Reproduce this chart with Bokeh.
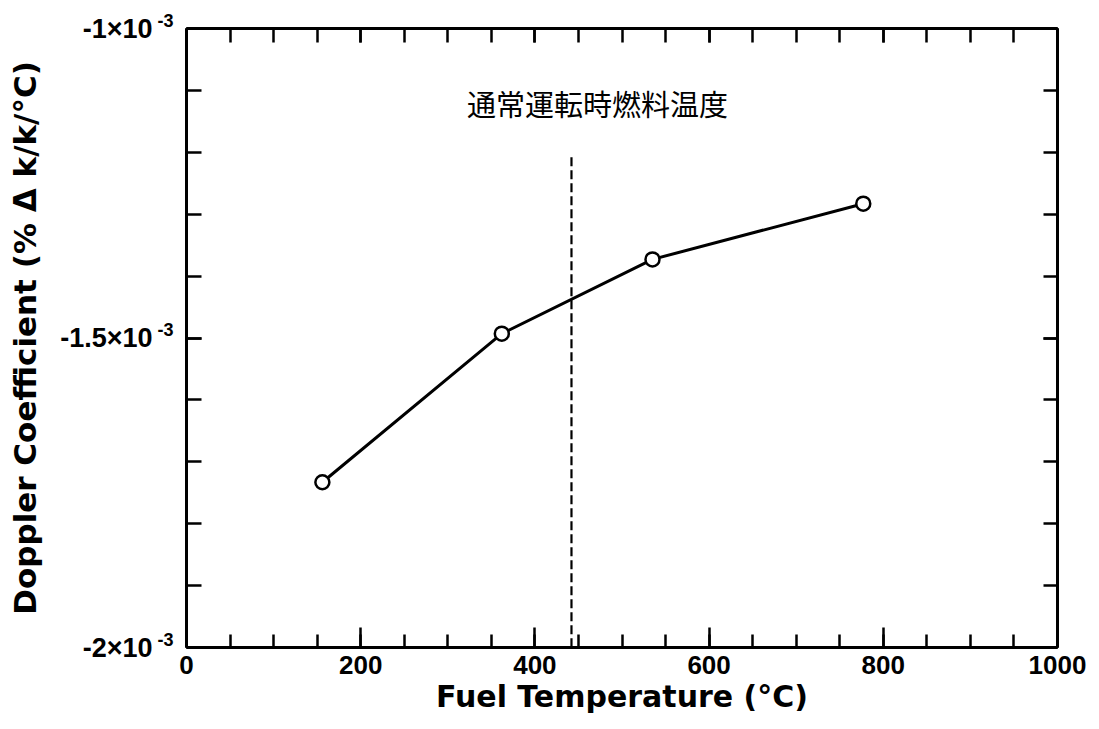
import numpy as np
from bokeh.plotting import figure
from bokeh.models import LinearAxis, FixedTicker, Label, Range1d
from bokeh.embed import file_html
from bokeh.resources import INLINE

# ---- data ----
fuel_temp = [156, 362, 535, 777]
doppler_coef = [-1.733e-3, -1.493e-3, -1.373e-3, -1.283e-3]
nominal_x = [442, 442]
nominal_y = [-1.208e-3, -2.0e-3]
nominal_text = "通常運転時燃料温度"
nominal_text_pos = (472, -1.12e-3)

x_ticks = [0, 200, 400, 600, 800, 1000]
x_minor = [float(v) for v in np.arange(0, 1001, 50)]
y_ticks = [-0.002, -0.0015, -0.001]
y_tick_base = ["-2×10", "-1.5×10", "-1×10"]
y_tick_exp = ["-3\n", "-3\n", "-3\n"]
y_minor = [round(v, 5) for v in np.arange(-0.002, -0.00099, 0.0001)]

FONT = "Liberation Sans"
LABEL_FONT = "DejaVu Sans"

p = figure(width=1099, height=729, output_backend="svg", toolbar_location=None,
           x_range=Range1d(0, 1000), y_range=Range1d(-0.002, -0.001),
           x_axis_label="Fuel Temperature (°C)",
           min_border_left=186, min_border_right=42, min_border_top=28, min_border_bottom=82)
p.xgrid.visible = False
p.ygrid.visible = False
p.outline_line_color = None
p.background_fill_color = "white"
p.border_fill_color = "white"

def style(ax, tin, tmin):
    ax.axis_line_width = 3
    ax.axis_line_color = "black"
    ax.major_tick_line_width = 2.5
    ax.minor_tick_line_width = 2.5
    ax.major_tick_in = tin
    ax.major_tick_out = 0
    ax.minor_tick_in = tmin
    ax.minor_tick_out = 0
    ax.major_label_text_font = FONT
    ax.major_label_text_font_style = "bold"
    ax.major_label_text_color = "black"
    ax.axis_label_text_font = LABEL_FONT
    ax.axis_label_text_font_style = "bold"
    ax.axis_label_text_color = "black"

xa = p.xaxis[0]
xa.ticker = FixedTicker(ticks=x_ticks, minor_ticks=x_minor)
style(xa, 20, 13)
xa.major_label_text_font_size = "26px"
xa.axis_label_text_font_size = "30px"
xa.major_label_standoff = 8
xa.axis_label_standoff = 2

# inner left axis: frame line, ticks and the superscript exponents
ya = p.yaxis[0]
ya.ticker = FixedTicker(ticks=y_ticks, minor_ticks=y_minor)
ya.major_label_overrides = {t: l for t, l in zip(y_ticks, y_tick_exp)}
style(ya, 15, 15)
ya.major_label_text_font_size = "18px"
ya.major_label_text_line_height = 0.8
ya.major_label_standoff = 13
ya.axis_label = None

# outer left axis: mantissa part of the tick labels and the axis title
yb = LinearAxis(ticker=FixedTicker(ticks=y_ticks, minor_ticks=[]))
style(yb, 0, 0)
yb.axis_line_color = None
yb.major_tick_line_color = None
yb.minor_tick_line_color = None
yb.major_label_overrides = {t: l for t, l in zip(y_ticks, y_tick_base)}
yb.major_label_text_font_size = "27px"
yb.major_label_standoff = 2
yb.axis_label = "Doppler Coefficient (% Δ k/k/°C)"
yb.axis_label_text_font_size = "31px"
yb.axis_label_standoff = 14
p.add_layout(yb, "left")

top = LinearAxis(ticker=FixedTicker(ticks=x_ticks, minor_ticks=x_minor))
style(top, 14, 14)
top.major_label_overrides = {t: "" for t in x_ticks}
top.major_label_text_font_size = "1px"
top.major_label_standoff = 0
p.add_layout(top, "above")

right = LinearAxis(ticker=FixedTicker(ticks=y_ticks, minor_ticks=y_minor))
style(right, 14, 14)
right.major_label_overrides = {t: "" for t in y_ticks}
right.major_label_text_font_size = "1px"
right.major_label_standoff = 0
p.add_layout(right, "right")

p.line(nominal_x, nominal_y, line_color="black", line_width=2.2, line_dash="9 4")
p.line(fuel_temp, doppler_coef, line_color="black", line_width=3)
p.scatter(fuel_temp, doppler_coef, size=14, marker="circle", fill_color="white",
          line_color="black", line_width=2.5)

lbl = Label(x=nominal_text_pos[0], y=nominal_text_pos[1], text=nominal_text,
            text_align="center", text_baseline="middle",
            text_font="Noto Sans CJK JP", text_font_size="29px", text_color="black")
p.add_layout(lbl)

open("out.html", "w").write(file_html(p, INLINE))
